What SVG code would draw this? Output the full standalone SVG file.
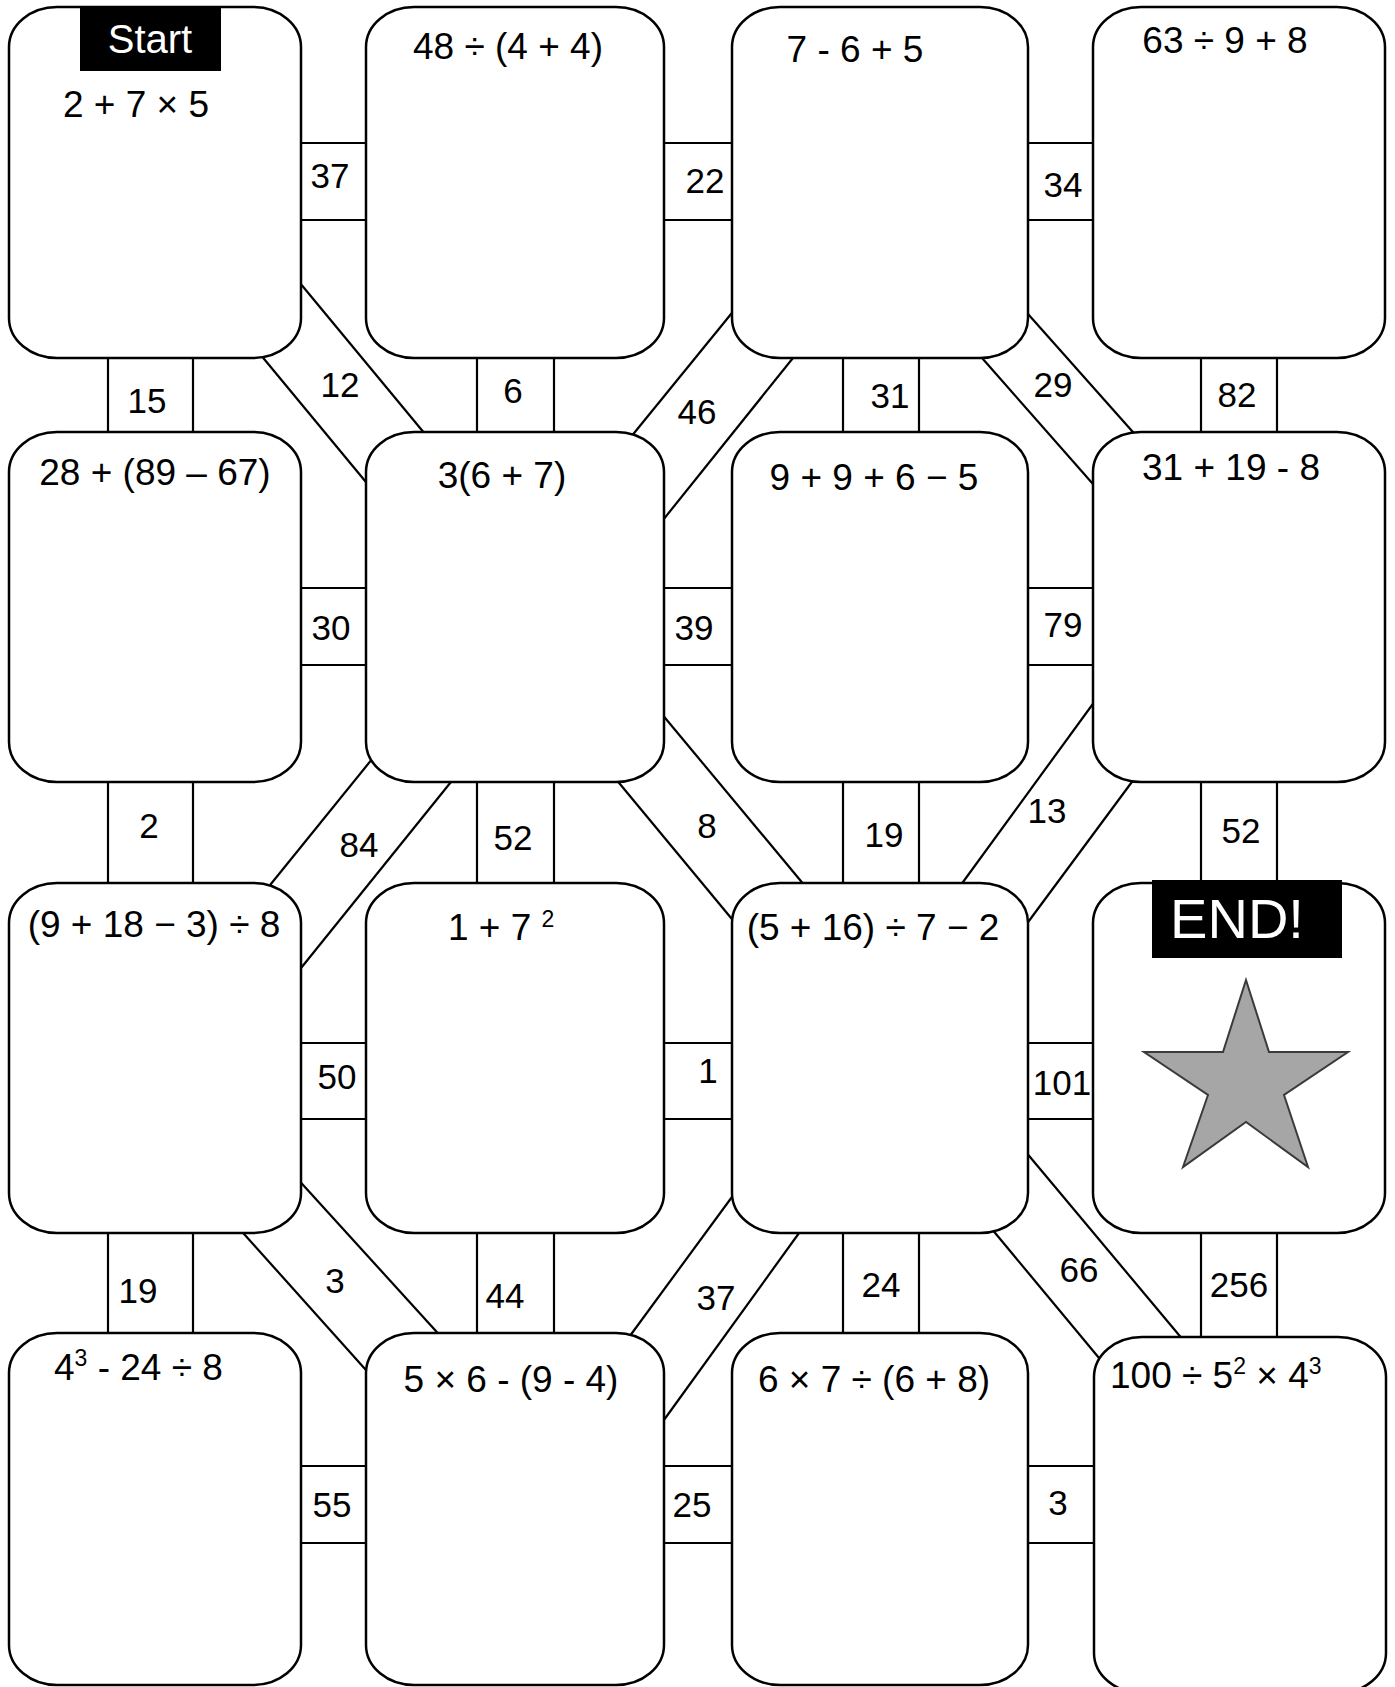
<svg xmlns="http://www.w3.org/2000/svg" width="1395" height="1687" viewBox="0 0 1395 1687">
<style>
  .box { fill: #ffffff; stroke: #000000; stroke-width: 2.5; }
  .ln { stroke: #000000; stroke-width: 2.2; fill: none; }
  .t { font-family: "Liberation Sans", Arial, sans-serif; font-size: 37px; fill: #000000; }
  .lbl { font-family: "Liberation Sans", Arial, sans-serif; font-size: 35px; fill: #000000; text-anchor: middle; }
  .m { text-anchor: middle; }
  .sup { font-size: 23px; }
  .tag { fill: #000000; }
  .tagt { font-family: "Liberation Sans", Arial, sans-serif; fill: #ffffff; text-anchor: middle; }
  .star { fill: #a6a6a6; stroke: #3a3a3a; stroke-width: 2; }
</style>
<rect x="0" y="0" width="1395" height="1687" fill="#ffffff"/>

<g id="connectors">
  <!-- horizontal bands row 1 -->
  <line class="ln" x1="295" y1="143" x2="372" y2="143"/><line class="ln" x1="295" y1="220" x2="372" y2="220"/>
  <line class="ln" x1="658" y1="143" x2="738" y2="143"/><line class="ln" x1="658" y1="220" x2="738" y2="220"/>
  <line class="ln" x1="1022" y1="143" x2="1099" y2="143"/><line class="ln" x1="1022" y1="220" x2="1099" y2="220"/>
  <!-- horizontal bands row 2 -->
  <line class="ln" x1="295" y1="588" x2="372" y2="588"/><line class="ln" x1="295" y1="665" x2="372" y2="665"/>
  <line class="ln" x1="658" y1="588" x2="738" y2="588"/><line class="ln" x1="658" y1="665" x2="738" y2="665"/>
  <line class="ln" x1="1022" y1="588" x2="1099" y2="588"/><line class="ln" x1="1022" y1="665" x2="1099" y2="665"/>
  <!-- horizontal bands row 3 -->
  <line class="ln" x1="295" y1="1043" x2="372" y2="1043"/><line class="ln" x1="295" y1="1119" x2="372" y2="1119"/>
  <line class="ln" x1="658" y1="1043" x2="738" y2="1043"/><line class="ln" x1="658" y1="1119" x2="738" y2="1119"/>
  <line class="ln" x1="1022" y1="1043" x2="1099" y2="1043"/><line class="ln" x1="1022" y1="1119" x2="1099" y2="1119"/>
  <!-- horizontal bands row 4 -->
  <line class="ln" x1="295" y1="1466" x2="372" y2="1466"/><line class="ln" x1="295" y1="1543" x2="372" y2="1543"/>
  <line class="ln" x1="658" y1="1466" x2="738" y2="1466"/><line class="ln" x1="658" y1="1543" x2="738" y2="1543"/>
  <line class="ln" x1="1022" y1="1466" x2="1099" y2="1466"/><line class="ln" x1="1022" y1="1543" x2="1099" y2="1543"/>

  <!-- vertical bands rows 1-2 -->
  <line class="ln" x1="108" y1="352" x2="108" y2="438"/><line class="ln" x1="193" y1="352" x2="193" y2="438"/>
  <line class="ln" x1="477" y1="352" x2="477" y2="438"/><line class="ln" x1="554" y1="352" x2="554" y2="438"/>
  <line class="ln" x1="843" y1="352" x2="843" y2="438"/><line class="ln" x1="919" y1="352" x2="919" y2="438"/>
  <line class="ln" x1="1201" y1="352" x2="1201" y2="438"/><line class="ln" x1="1277" y1="352" x2="1277" y2="438"/>
  <!-- vertical bands rows 2-3 -->
  <line class="ln" x1="108" y1="776" x2="108" y2="889"/><line class="ln" x1="193" y1="776" x2="193" y2="889"/>
  <line class="ln" x1="477" y1="776" x2="477" y2="889"/><line class="ln" x1="554" y1="776" x2="554" y2="889"/>
  <line class="ln" x1="843" y1="776" x2="843" y2="889"/><line class="ln" x1="919" y1="776" x2="919" y2="889"/>
  <line class="ln" x1="1201" y1="776" x2="1201" y2="889"/><line class="ln" x1="1277" y1="776" x2="1277" y2="889"/>
  <!-- vertical bands rows 3-4 -->
  <line class="ln" x1="108" y1="1227" x2="108" y2="1339"/><line class="ln" x1="193" y1="1227" x2="193" y2="1339"/>
  <line class="ln" x1="477" y1="1227" x2="477" y2="1339"/><line class="ln" x1="554" y1="1227" x2="554" y2="1339"/>
  <line class="ln" x1="843" y1="1227" x2="843" y2="1339"/><line class="ln" x1="919" y1="1227" x2="919" y2="1339"/>
  <line class="ln" x1="1201" y1="1227" x2="1201" y2="1343"/><line class="ln" x1="1277" y1="1227" x2="1277" y2="1343"/>

  <!-- diagonal bands -->
  <line class="ln" x1="295" y1="277" x2="430" y2="440"/><line class="ln" x1="255" y1="348" x2="375" y2="493"/>
  <line class="ln" x1="740" y1="303" x2="626" y2="443"/><line class="ln" x1="801" y1="348" x2="655" y2="530"/>
  <line class="ln" x1="1020" y1="305" x2="1140" y2="440"/><line class="ln" x1="975" y1="350" x2="1100" y2="492"/>
  <line class="ln" x1="381" y1="748" x2="262" y2="895"/><line class="ln" x1="459" y1="772" x2="293" y2="978"/>
  <line class="ln" x1="656" y1="707" x2="810" y2="892"/><line class="ln" x1="610" y1="772" x2="741" y2="930"/>
  <line class="ln" x1="1103" y1="690" x2="955" y2="893"/><line class="ln" x1="1140" y1="771" x2="1020" y2="933"/>
  <line class="ln" x1="294" y1="1175" x2="445" y2="1341"/><line class="ln" x1="236" y1="1225" x2="374" y2="1379"/>
  <line class="ln" x1="740" y1="1186" x2="624" y2="1344"/><line class="ln" x1="807" y1="1222" x2="656" y2="1431"/>
  <line class="ln" x1="1020" y1="1145" x2="1189" y2="1347"/><line class="ln" x1="986" y1="1222" x2="1109" y2="1370"/>
</g>

<g id="node-1">
  <rect class="box" x="9" y="7" width="292" height="351" rx="48" ry="40"/>
  <rect class="tag" x="80" y="8" width="141" height="63"/>
  <text class="tagt" x="150" y="53" font-size="40">Start</text>
  <text class="t m" x="136" y="117">2 + 7 × 5</text>
</g>
<g id="node-2">
  <rect class="box" x="366" y="7" width="298" height="351" rx="48" ry="40"/>
  <text class="t m" x="508" y="59">48 ÷ (4 + 4)</text>
</g>
<g id="node-3">
  <rect class="box" x="732" y="7" width="296" height="351" rx="48" ry="40"/>
  <text class="t m" x="855" y="62">7 - 6 + 5</text>
</g>
<g id="node-4">
  <rect class="box" x="1093" y="7" width="292" height="351" rx="48" ry="40"/>
  <text class="t m" x="1225" y="53">63 ÷ 9 + 8</text>
</g>

<g id="node-5">
  <rect class="box" x="9" y="432" width="292" height="350" rx="48" ry="40"/>
  <text class="t m" x="155" y="485">28 + (89 – 67)</text>
</g>
<g id="node-6">
  <rect class="box" x="366" y="432" width="298" height="350" rx="48" ry="40"/>
  <text class="t m" x="502" y="488">3(6 + 7)</text>
</g>
<g id="node-7">
  <rect class="box" x="732" y="432" width="296" height="350" rx="48" ry="40"/>
  <text class="t m" x="874" y="490">9 + 9 + 6 − 5</text>
</g>
<g id="node-8">
  <rect class="box" x="1093" y="432" width="292" height="350" rx="48" ry="40"/>
  <text class="t m" x="1231" y="480">31 + 19 - 8</text>
</g>

<g id="node-9">
  <rect class="box" x="9" y="883" width="292" height="350" rx="48" ry="40"/>
  <text class="t m" x="154" y="937">(9 + 18 − 3) ÷ 8</text>
</g>
<g id="node-10">
  <rect class="box" x="366" y="883" width="298" height="350" rx="48" ry="40"/>
  <text class="t" x="448" y="940">1 + 7 <tspan class="sup" dy="-13">2</tspan></text>
</g>
<g id="node-11">
  <rect class="box" x="732" y="883" width="296" height="350" rx="48" ry="40"/>
  <text class="t m" x="873" y="940">(5 + 16) ÷ 7 − 2</text>
</g>
<g id="node-12">
  <rect class="box" x="1093" y="883" width="292" height="350" rx="48" ry="40"/>
  <rect class="tag" x="1152" y="880" width="190" height="78"/>
  <text class="tagt" x="1237" y="938" font-size="56">END!</text>
  <polygon class="star" points="1246,980 1269,1052 1348,1052 1284,1095 1308,1167 1246,1122 1183,1167 1208,1095 1144,1052 1223,1052"/>
</g>

<g id="node-13">
  <rect class="box" x="9" y="1333" width="292" height="352" rx="48" ry="40"/>
  <text class="t" x="54" y="1380">4<tspan class="sup" dy="-14">3</tspan><tspan dy="14"> - 24 ÷ 8</tspan></text>
</g>
<g id="node-14">
  <rect class="box" x="366" y="1333" width="298" height="352" rx="48" ry="40"/>
  <text class="t m" x="511" y="1392">5 × 6 - (9 - 4)</text>
</g>
<g id="node-15">
  <rect class="box" x="732" y="1333" width="296" height="352" rx="48" ry="40"/>
  <text class="t m" x="874" y="1392">6 × 7 ÷ (6 + 8)</text>
</g>
<g id="node-16">
  <rect class="box" x="1094" y="1337" width="292" height="356" rx="48" ry="40"/>
  <text class="t" x="1110" y="1388">100 ÷ 5<tspan class="sup" dy="-14">2</tspan><tspan dy="14"> × 4</tspan><tspan class="sup" dy="-14">3</tspan></text>
</g>

<g id="connector-labels" class="lbl">
  <text x="330" y="188">37</text>
  <text x="705" y="193">22</text>
  <text x="1063" y="197">34</text>
  <text x="147" y="413">15</text>
  <text x="340" y="397">12</text>
  <text x="513" y="403">6</text>
  <text x="697" y="424">46</text>
  <text x="890" y="408">31</text>
  <text x="1053" y="397">29</text>
  <text x="1237" y="407">82</text>
  <text x="331" y="640">30</text>
  <text x="694" y="640">39</text>
  <text x="1063" y="637">79</text>
  <text x="149" y="838">2</text>
  <text x="359" y="857">84</text>
  <text x="513" y="850">52</text>
  <text x="707" y="838">8</text>
  <text x="884" y="847">19</text>
  <text x="1047" y="823">13</text>
  <text x="1241" y="843">52</text>
  <text x="337" y="1089">50</text>
  <text x="708" y="1083">1</text>
  <text x="1062" y="1095">101</text>
  <text x="138" y="1303">19</text>
  <text x="335" y="1293">3</text>
  <text x="505" y="1308">44</text>
  <text x="716" y="1310">37</text>
  <text x="881" y="1297">24</text>
  <text x="1079" y="1282">66</text>
  <text x="1239" y="1297">256</text>
  <text x="332" y="1517">55</text>
  <text x="692" y="1517">25</text>
  <text x="1058" y="1515">3</text>
</g>
</svg>
